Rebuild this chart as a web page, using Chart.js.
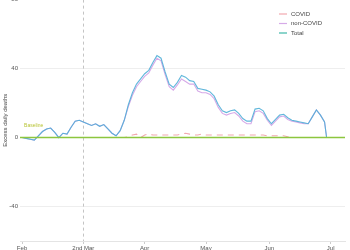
<!DOCTYPE html>
<html>
<head>
<meta charset="utf-8">
<script src="https://cdn.jsdelivr.net/npm/chart.js@4"></script>
<style>
  html, body { margin:0; padding:0; background:#fff; overflow:hidden; }
  #wrap { position:absolute; left:0; top:-6px; width:350px; height:256px; }
</style>
</head>
<body>
<div id="wrap"><canvas id="chart"></canvas></div>
<script>
// days since 1 Feb 2020
const days = [0,2,4,6,8,10,12,14,16,18,20,22,24,26,28,30,32,34,36,38,40,42,44,46,48,50,
  52,54,56,58,60,62,64,66,68,70,72,74,76,78,80,82,84,86,88,90,92,94,96,98,100,
  102,104,106,108,110,112,114,116,118,120,122,124,126,128,130,132,134,136,138,140,
  142,144,146,148,149];

const total = [0,-0.5,-1,-1.5,1,3.5,5,5.5,3,0,2.5,2,6,9.5,10,9,8,7,8,6.5,7.5,5,2.5,1,4,10,
  19,26,31,34,37,39,43.5,47.5,46,38,31,29,32,36,35,33,32.5,28.5,28,27.5,26.5,24,19,15.5,14.5,
  15.5,16,14,11,9.5,9.5,16.5,17,15.5,11,8,10.5,13,13.5,11.5,10,9.5,9,8.5,8,
  12,16,13,9,0];

const nonCovid = [0,-0.5,-1,-1.5,1,3.5,5,5.5,3,0,2.5,2,6,9.5,10,9,8,7,8,6.5,7.5,5,2.5,1,4,10,
  18,24.5,29.5,32.5,35.5,37.5,42,46,44.5,36.5,29.5,27.5,30.5,34,32.5,31,31,27,26,26,25,22.5,17.5,14,13,
  14,14.5,12.5,9.5,8,8,15,15.5,14,10,7,9.5,12,12.5,10.5,9.5,9,8.5,8,8,
  12,16,13,9,0];

const covid = [0,0,0,0,0,0,0,0,0,0,0,0,0,0,0,0,0,0,0,0,0,0,0,0,0,0,
  0.5,1.5,2,0,1.5,2,1.5,1.5,1.5,1.5,1.5,1.5,1.5,2,2.5,2,1.5,1.5,2,1.5,1.5,1.5,1.5,1.5,1.5,
  1.5,1.5,1.5,1.5,1.5,1.5,1.5,1.5,1.5,1,1,1,1,1,0.5,0,0,0,0,0,
  0,0,0,0,0];

const baselineX = [-1, 158];
const baselineY = [0, 0];

const tickDays = [0, 30, 60, 90, 121, 151];
const tickNames = ['Feb', '2nd Mar', 'Apr', 'May', 'Jun', 'Jul'];
const yTicks = [-40, 0, 40, 80];

const pts = (xs, ys) => xs.map((x, i) => ({ x, y: ys[i] }));

const decor = {
  id: 'decor',
  beforeDatasetsDraw(chart){
    const { ctx, chartArea, scales:{ x } } = chart;
    const px = x.getPixelForValue(30);
    ctx.save();
    ctx.strokeStyle = '#c4c4c4';
    ctx.lineWidth = 1;
    ctx.setLineDash([3, 3]);
    ctx.beginPath();
    ctx.moveTo(Math.round(px) + 0.5, chartArea.top);
    ctx.lineTo(Math.round(px) + 0.5, chartArea.bottom);
    ctx.stroke();
    ctx.restore();
  },
  afterDraw(chart){
    const { ctx, scales:{ x, y } } = chart;
    ctx.save();
    ctx.font = '5px "Liberation Sans", Arial, sans-serif';
    ctx.fillStyle = '#b8c436';
    ctx.textBaseline = 'middle';
    ctx.fillText('Baseline', x.getPixelForValue(1), y.getPixelForValue(7));
    // legend
    const items = chart.data.datasets.filter(d => d.label);
    ctx.font = '6px "Liberation Sans", Arial, sans-serif';
    items.forEach((d, i) => {
      const ly = 20 + i * 9.5;
      ctx.strokeStyle = d.legendColor || d.borderColor;
      ctx.lineWidth = 1.2;
      ctx.setLineDash([]);
      ctx.beginPath();
      ctx.moveTo(279, ly);
      ctx.lineTo(287, ly);
      ctx.stroke();
      ctx.fillStyle = '#444';
      ctx.fillText(d.label, 291, ly);
    });
    ctx.restore();
  }
};

new Chart(document.getElementById('chart'), {
  type: 'line',
  data: {
    datasets: [
      { data: pts(baselineX, baselineY), borderColor:'#8cc63f', borderWidth:1.5, pointRadius:0, order:0 },
      { label:'COVID', data: pts(days, covid), borderColor:'#f2a8b0', borderWidth:1.1, borderDash:[6,5], pointRadius:0, order:3 },
      { label:'non-COVID', data: pts(days, nonCovid), borderColor:'#d6aae8', borderWidth:1.1, pointRadius:0, order:2 },
      { label:'Total', data: pts(days, total), borderColor:'rgba(80,175,215,0.9)', legendColor:'#3db8a8', borderWidth:1.1, pointRadius:0, order:1 }
    ]
  },
  options: {
    responsive: true,
    maintainAspectRatio: false,
    animation: false,
    layout: { padding: { top: 5, right: 5, left: 0, bottom: 0 } },
    plugins: { legend: { display:false }, tooltip: { enabled:false } },
    scales: {
      x: {
        type: 'linear', min: -1, max: 158,
        afterBuildTicks: s => { s.ticks = tickDays.map(v => ({ value: v })); },
        afterFit: s => { s.height = 9; },
        ticks: {
          autoSkip: false, maxRotation: 0, padding: 1,
          font: { size: 6, family: '"Liberation Sans", Arial, sans-serif' }, color: '#555',
          callback: v => tickNames[tickDays.indexOf(v)]
        },
        grid: { drawOnChartArea: false, drawTicks: true, tickLength: 3, tickColor: '#ccc' },
        border: { display: true, color: '#e4e4e4' }
      },
      y: {
        min: -60, max: 80,
        afterBuildTicks: s => { s.ticks = yTicks.map(v => ({ value: v })); },
        afterFit: s => { s.width = 20; },
        ticks: { padding: 2, font: { size: 6, family: '"Liberation Sans", Arial, sans-serif' }, color: '#555' },
        grid: { color: '#eeeeee', drawTicks: false },
        border: { display: false },
        title: { display: true, text: 'Excess daily deaths', padding: { top: 2, bottom: 0 },
          font: { size: 6, family: '"Liberation Sans", Arial, sans-serif' }, color: '#444' }
      }
    }
  },
  plugins: [decor]
});
</script>
</body>
</html>
